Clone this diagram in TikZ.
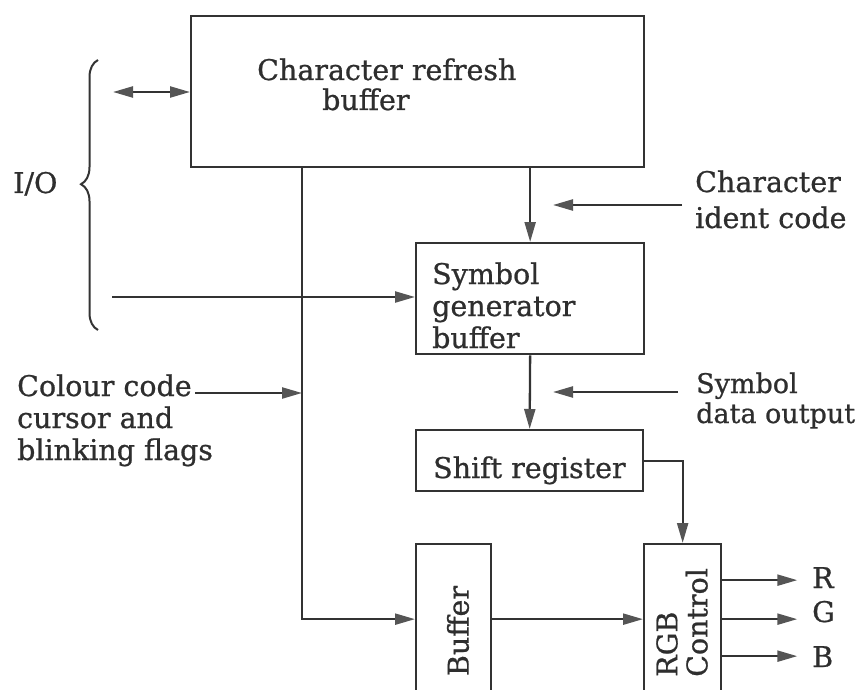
\documentclass[tikz,border=0pt]{standalone}
\usepackage{fontspec}
\setmainfont{DejaVu Serif}[FakeBold=0.8]
\usetikzlibrary{arrows.meta,decorations.pathreplacing}
\definecolor{linec}{HTML}{333333}
\definecolor{headc}{HTML}{555555}
\definecolor{textc}{HTML}{2E2E2E}
\begin{document}
\begin{tikzpicture}[x=1pt,y=-1pt,
  line/.style={draw=linec, line width=2.3pt},
  tip/.tip={Triangle[length=20pt,width=11pt,color=headc]},
  arr/.style={line, -tip},
  box/.style={draw=linec, line width=2.3pt, inner sep=0pt, anchor=north west},
  lbl/.style={inner sep=0pt, anchor=base west, align=left, text=textc, font=\fontsize{28.5}{32}\selectfont},
  rot/.style={inner sep=0pt, rotate=90, align=left, text=textc, font=\fontsize{28.5}{30}\selectfont}]
\useasboundingbox (0,0) rectangle (862,690);
\clip (0,0) rectangle (862,690);
% blocks
\node[box, minimum width=453pt, minimum height=151pt] (crb) at (190,15) {};
\node[box, minimum width=228pt, minimum height=111pt] (sgb) at (415,242) {};
\node[box, minimum width=227pt, minimum height=61pt] (sr) at (415,429) {};
\node[box, minimum width=75pt, minimum height=150pt] (buf) at (415,543) {};
\node[box, minimum width=77pt, minimum height=150pt] (rgb) at (643,543) {};
% texts
\node[lbl] (t1) at (257,80) {Character refresh};
\node[lbl] (t2) at (322,110) {buffer};
\node[lbl] (t3) at (432,348) {Symbol\\generator\\buffer};
\node[lbl] (t4) at (433,478) {Shift register};
\node[rot] (t5) at (458,631) {Buffer};
\node[rot, anchor=west] (t6) at (682,677) {RGB\\Control};
\node[lbl, font=\fontsize{28.5}{36}\selectfont] (t7) at (695,228) {Character\\ident code};
\node[lbl, font=\fontsize{27}{30}\selectfont] (t8) at (696,423) {Symbol\\data output};
\node[lbl] (t9) at (13,193) {I/O};
\node[lbl] (t10) at (17,460) {Colour code\\cursor and\\blinking flags};
\node[lbl] (tR) at (812,588) {R};
\node[lbl] (tG) at (812,622) {G};
\node[lbl] (tB) at (812,667) {B};
% free ends
\coordinate (bio) at (113,92);
\coordinate (ioin) at (112,297);
\coordinate (cc) at (195,393);
\coordinate (cic) at (682,205);
\coordinate (cit) at (553,205);
\coordinate (sdo) at (678,392);
\coordinate (sdt) at (553,392);
\coordinate (vtop) at ([xshift=112pt]crb.south west);
% connectors
\draw[line, tip-tip] (bio) -- (bio -| crb.west);
\draw[arr] (crb.south -| sgb.north) -- (sgb.north);
\draw[arr] (sgb.south) -- (sr.north);
\draw[arr] (cic) -- (cit);
\draw[arr] (sdo) -- (sdt);
\draw[arr] (ioin) -- (ioin -| sgb.west);
\draw[arr] (vtop) |- (buf.west);
\draw[arr] (cc) -- (cc -| vtop);
\draw[arr] (buf.east) -- (rgb.west);
\draw[arr] (sr.east) -| (rgb.north);
\draw[arr] ([yshift=39pt]rgb.east) -- ++(75,0);
\draw[arr] (rgb.east) -- ++(75,0);
\draw[arr] ([yshift=-37pt]rgb.east) -- ++(75,0);
% brace
\draw[draw=linec, line width=2pt, decorate, decoration={brace, amplitude=17pt, aspect=0.54}] (98,330) -- (98,60);
\end{tikzpicture}
\end{document}
